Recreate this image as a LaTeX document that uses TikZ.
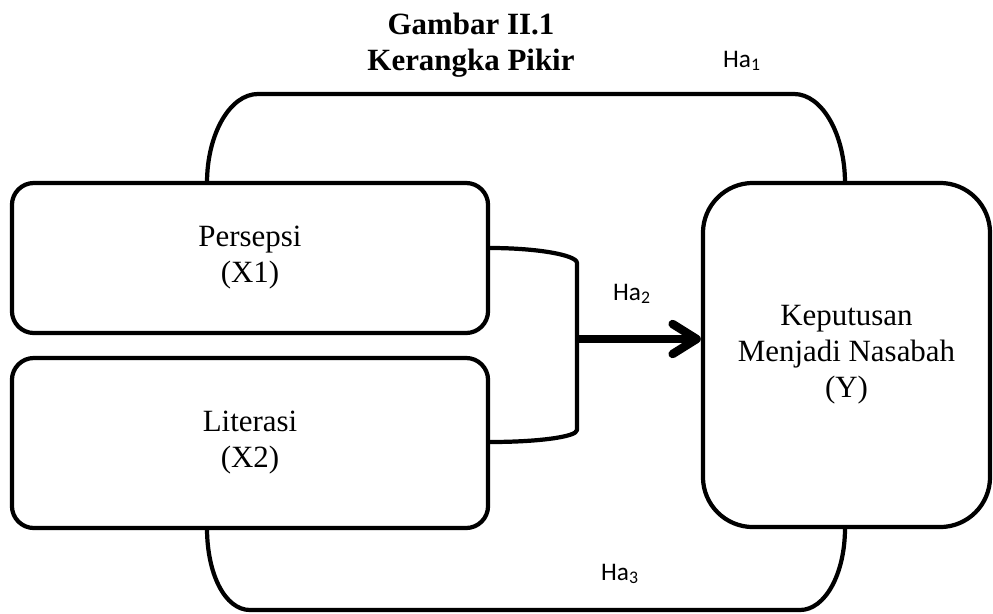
\documentclass[tikz,border=0pt]{standalone}
\usepackage{fontspec}
\setmainfont{Liberation Serif}
\newfontfamily\hafont{Carlito}
\usetikzlibrary{arrows.meta}
\usetikzlibrary{calc}

\begin{document}
\begin{tikzpicture}[x=0.025cm, y=-0.025cm]
    \colorlet{border}{black}

\newcommand\varwidth{11.9cm}
\newcommand\persepsiheight{3.75cm}
\newcommand\literasiheight{4.25cm}
\newcommand\bodyfont{\fontsize{22}{25.6}\selectfont}

\tikzset{
    outline/.style={draw=border, line width=3pt, line join=round},
    var box/.style={
        outline, fill=white, rectangle,
        rounded corners=.55cm,
        minimum width=\varwidth,
        align=center, inner sep=0pt,
        font=\bodyfont,
    },
    result box/.style={
        var box,
        rounded corners=1.25cm,
        minimum width=7.175cm,
        minimum height=8.6cm,
    },
    hypo/.style={font=\hafont\fontsize{18}{20}\selectfont, anchor=base, inner sep=0pt},
    main arrow/.style={
        draw=border, line width=6pt,
        -{Straight Barb[length=.6cm, width=.75cm, line cap=round, line join=round]},
    },
}

\useasboundingbox (0, 0) rectangle (993, 613);

\begin{scope}
    % path of Ha1 over the top and Ha3 under the bottom
    \draw[outline] (207, 183)
        .. controls (207, 134) and (230, 94) .. (258, 94)
        -- (794, 94)
        .. controls (822, 94) and (845, 134) .. (845, 183);
    \draw[outline] (207, 528)
        .. controls (207, 574) and (225, 610) .. (250, 610)
        -- (800, 610)
        .. controls (825, 610) and (845, 574) .. (845, 528);

    \node[var box, minimum height=\persepsiheight] at (250, 258) (persepsi)
        {Persepsi\\(X1)};
    \node[var box, minimum height=\literasiheight] at (250, 443) (literasi)
        {Literasi\\(X2)};
    \node[result box] at (846.5, 355) (keputusan)
        {Keputusan\\Menjadi Nasabah\\(Y)};
\end{scope}

    \coordinate (join) at (577, 339);

    \draw[outline] (persepsi.east |- 0, 248)
        .. controls (537, 248) and (577, 255) .. (577, 263)
        -- (join) -- (577, 430)
        .. controls (577, 437) and (537, 442) .. (literasi.east |- 0, 442);

    \draw[main arrow] (join) -- (join -| keputusan.west);

    \node[font=\bfseries\fontsize{22}{25.6}\selectfont, align=center, inner sep=0pt]
        at (471, 45) (title) {Gambar II.1\\Kerangka Pikir};

    \node[hypo] at (742, 67) (ha-1) {Ha\textsubscript{1}};
    \node[hypo] at (632, 300) (ha-2) {Ha\textsubscript{2}};
    \node[hypo] at (620, 580) (ha-3) {Ha\textsubscript{3}};
\end{tikzpicture}
\end{document}
